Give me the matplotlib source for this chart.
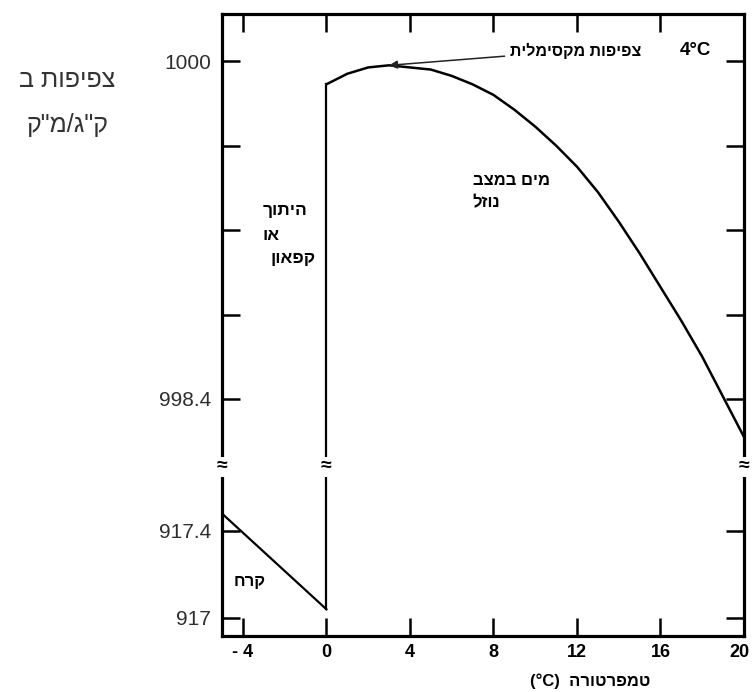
import matplotlib
matplotlib.use('Agg')
import matplotlib.pyplot as plt
import matplotlib.transforms as mtransforms

plt.rcParams['font.family'] = ['Liberation Sans', 'DejaVu Sans']

# Data
temp_ice = [-5, 0]
dens_ice = [917.48, 917.04]

temp_water = [0, 1, 2, 3, 4, 5, 6, 7, 8, 9, 10, 11, 12, 13, 14, 15, 16, 17, 18, 19, 20]
dens_water = [999.89, 999.94, 999.97, 999.98, 999.97, 999.96, 999.93, 999.89, 999.84,
              999.77, 999.69, 999.60, 999.50, 999.38, 999.24, 999.09, 998.93, 998.77,
              998.60, 998.41, 998.22]

x_ticks = [-4, 0, 4, 8, 12, 16, 20]
x_ticklabels = ['- 4', '0', '4', '8', '12', '16', '20']
upper_ticks = [998.4, 998.8, 999.2, 999.6, 1000.0]
upper_ticklabels = ['998.4', '', '', '', '1000']
lower_ticks = [917.0, 917.4]
lower_ticklabels = ['917', '917.4']

# Hebrew texts (logical order)
ylabel_lines = ['צפיפות ב', 'ק"ג/מ"ק']
xlabel_word = 'טמפרטורה'
max_label = 'צפיפות מקסימלית'
liquid_lines = ['מים במצב', 'נוזל']
melt_lines = ['היתוך', 'או', 'קפאון']
ice_label = 'קרח'


def heb(s):
    # matplotlib draws left to right, so reverse for right-to-left display
    return s[::-1]


W, H = 752, 692
fig = plt.figure(figsize=(W / 100, H / 100), dpi=100)

left, right = 222, 744
top, brk, bottom = 14, 467, 636
ax_up = fig.add_axes([left / W, 1 - brk / H, (right - left) / W, (brk - top) / H])
ax_lo = fig.add_axes([left / W, 1 - bottom / H, (right - left) / W, (bottom - brk) / H])

for ax in (ax_up, ax_lo):
    ax.plot(temp_ice, dens_ice, color='black', lw=1.6, zorder=3)
    ax.plot([temp_ice[-1], temp_water[0]], [dens_ice[-1], dens_water[0]], color='black', lw=1.6, zorder=3)
    ax.plot(temp_water, dens_water, color='black', lw=1.8, zorder=3)
    ax.set_xlim(-5, 20)
    ax.set_xticks(x_ticks)
    for s in ax.spines.values():
        s.set_linewidth(2.3)
    ax.tick_params(axis='y', direction='in', left=True, right=True, length=13, width=1.8,
                   labelsize=15, labelcolor='#2e2e2e', pad=8)

ax_up.set_ylim(998.078, 1000.223)
ax_lo.set_ylim(916.917, 917.694)
ax_up.spines['bottom'].set_visible(False)
ax_lo.spines['top'].set_visible(False)

ax_up.set_yticks(upper_ticks)
ax_up.set_yticklabels(upper_ticklabels)
ax_lo.set_yticks(lower_ticks)
ax_lo.set_yticklabels(lower_ticklabels)

ax_up.tick_params(axis='x', direction='in', top=True, bottom=False, labelbottom=False,
                  length=13, width=1.8)
ax_lo.tick_params(axis='x', direction='in', top=False, bottom=True, length=13, width=1.8,
                  labelsize=13, pad=6)
ax_lo.set_xticklabels(x_ticklabels, fontweight='bold')
# keep the last label inside the picture
last = ax_lo.get_xticklabels()[-1]
last.set_transform(last.get_transform() + mtransforms.ScaledTranslation(-3 / 72, 0, fig.dpi_scale_trans))

# break marks on the spines and on the vertical line
trans = mtransforms.blended_transform_factory(ax_lo.transData, ax_lo.transAxes)
for xb in (-5, 0, 20):
    ax_lo.text(xb, 1.0, '≈', transform=trans, ha='center', va='center', fontsize=14,
               fontweight='bold', clip_on=False, zorder=10,
               bbox=dict(facecolor='white', edgecolor='none', pad=0.8))

# annotations
ax_up.annotate(heb(max_label), xy=(temp_water[3], dens_water[3]), xytext=(8.8, 1000.05),
               fontsize=11.5, fontweight='bold', ha='left', va='center',
               arrowprops=dict(arrowstyle='-|>', color='#222222', lw=1.1,
                               mutation_scale=12, shrinkA=2, shrinkB=0))
ax_up.text(16.9, 1000.05, '4°C', fontsize=13.5, fontweight='bold', ha='left', va='center')

ax_up.text(7.0, 999.436, heb(liquid_lines[0]), fontsize=12, fontweight='bold', ha='left', va='center')
ax_up.text(7.0, 999.33, heb(liquid_lines[1]), fontsize=12, fontweight='bold', ha='left', va='center')

ax_up.text(-3.06, 999.294, heb(melt_lines[0]), fontsize=12.5, fontweight='bold', ha='left', va='center')
ax_up.text(-3.06, 999.175, heb(melt_lines[1]), fontsize=12.5, fontweight='bold', ha='left', va='center')
ax_up.text(-2.7, 999.066, heb(melt_lines[2]), fontsize=12.5, fontweight='bold', ha='left', va='center')

ax_lo.text(-4.45, 917.166, heb(ice_label), fontsize=12, fontweight='bold', ha='left', va='center')

# axis titles
fig.text(67 / W, 1 - 80 / H, heb(ylabel_lines[0]), fontsize=18, color='#333333', ha='center', va='center')
fig.text(67 / W, 1 - 125 / H, heb(ylabel_lines[1]), fontsize=18, color='#333333', ha='center', va='center')
fig.text(590 / W, 1 - 681 / H, '(°C)  ' + heb(xlabel_word), fontsize=12, fontweight='bold',
         ha='center', va='center')

fig.savefig('out.png', dpi=100)
